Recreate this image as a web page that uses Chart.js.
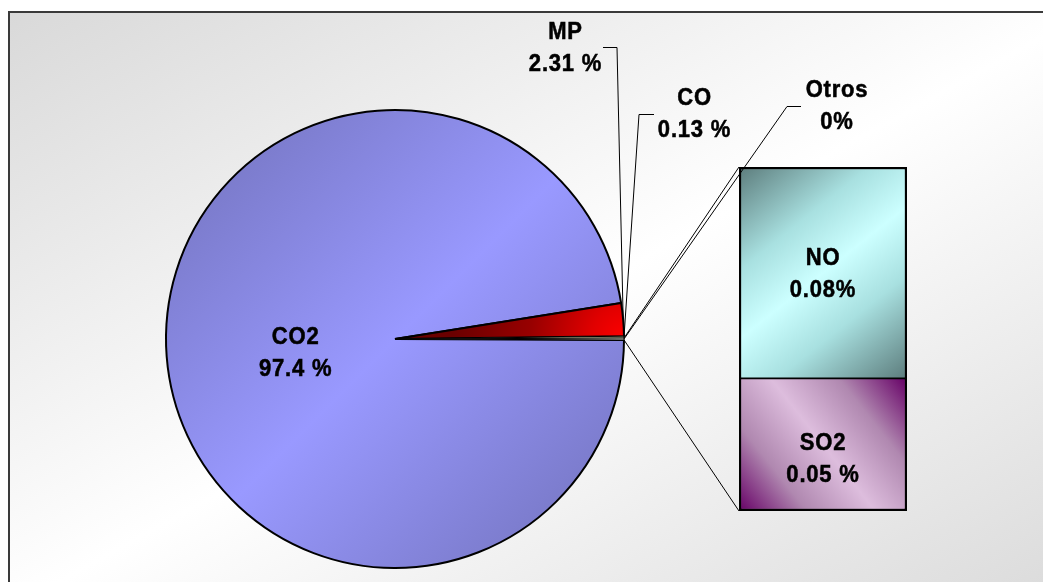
<!DOCTYPE html>
<html>
<head>
<meta charset="utf-8">
<script src="https://cdn.jsdelivr.net/npm/chart.js@4.4.1/dist/chart.umd.min.js"></script>
<style>
  html, body { margin: 0; padding: 0; width: 1043px; height: 582px; overflow: hidden; background: #ffffff; }
  #panel {
    position: absolute; left: 8px; top: 11px; width: 1080px; height: 600px;
    box-sizing: border-box; border: 2px solid #3a3a3a;
    background: linear-gradient(to bottom right, #d9d9d9 0%, #ffffff 50%, #d9d9d9 100%);
  }
  canvas { position: absolute; left: 0; top: 0; }
</style>
</head>
<body>
<div id="panel"></div>
<canvas id="pie" width="1043" height="582"></canvas>
<canvas id="bar" width="1043" height="582"></canvas>
<script>
// Emission shares, in percent
const pieLabels = ['CO2', 'MP', 'CO', 'Otros'];
const mainValues = [97.4, 2.31, 0.13];          // CO2, MP, CO
const barLabels = ['SO2', 'NO'];                // stacked bottom -> top
const barValues = [0.05, 0.08];

// the "Otros" slice of the pie is the sum of the stacked bar
const otrosValue = barValues.reduce((a, b) => a + b, 0);
const pieValues = mainValues.concat([otrosValue]);
const pieTotal = pieValues.reduce((a, b) => a + b, 0);

// value text formats per category
const pieFormat = [
  v => v.toFixed(1) + ' %',
  v => v.toFixed(2) + ' %',
  v => v.toFixed(2) + ' %',
  v => Math.round(v) + '%'
];
const barFormat = [
  v => v.toFixed(2) + ' %',
  v => v.toFixed(2) + '%'
];

const FONT = 'bold 22px "Liberation Sans", Arial, sans-serif';
const TEXT_STRETCH = 1.07;   // slightly tall lettering

function pieFill(ctx) {
  const chart = ctx.chart;
  const a = chart.chartArea;
  if (!a) return '#9999ff';
  const cx = (a.left + a.right) / 2, cy = (a.top + a.bottom) / 2;
  const r = Math.min(a.right - a.left, a.bottom - a.top) / 2;
  const c = chart.ctx;
  let g;
  switch (ctx.dataIndex) {
    case 0:
      g = c.createLinearGradient(cx - r, cy - r, cx + r, cy + r);
      g.addColorStop(0, '#7070b8');
      g.addColorStop(0.5, '#9999ff');
      g.addColorStop(1, '#7070b8');
      return g;
    case 1:
      g = c.createRadialGradient(cx + r, cy, 0, cx + r, cy, r * 0.75);
      g.addColorStop(0, '#ff0000');
      g.addColorStop(0.2, '#e00000');
      g.addColorStop(0.55, '#980000');
      g.addColorStop(1, '#6a0000');
      return g;
    case 2:
      return '#ffffcc';
    default:
      return '#fffff0';
  }
}

function barFill(ctx, i) {
  const chart = ctx.chart;
  const a = chart.chartArea;
  if (!a || !chart.scales.y) return i ? '#ccffff' : '#ddbbdd';
  const y = chart.scales.y;
  const c = chart.ctx;
  let g;
  if (i === 1) {
    const top = y.getPixelForValue(otrosValue), bot = y.getPixelForValue(barValues[0]);
    g = c.createLinearGradient(a.left, top, a.right, bot);
    g.addColorStop(0, '#5c7c7c');
    g.addColorStop(0.3, '#a8e0e0');
    g.addColorStop(0.5, '#ccffff');
    g.addColorStop(0.7, '#a8e0e0');
    g.addColorStop(1, '#5c7c7c');
  } else {
    const top = y.getPixelForValue(barValues[0]), bot = y.getPixelForValue(0);
    g = c.createLinearGradient(a.right, top, a.left, bot);
    g.addColorStop(0, '#660066');
    g.addColorStop(0.25, '#b088b0');
    g.addColorStop(0.5, '#ddbddd');
    g.addColorStop(0.75, '#b088b0');
    g.addColorStop(1, '#660066');
  }
  return g;
}

const pieChart = new Chart(document.getElementById('pie'), {
  type: 'pie',
  data: {
    labels: pieLabels,
    datasets: [{
      data: pieValues,
      backgroundColor: pieFill,
      borderColor: '#000000',
      borderWidth: [2, 2, 1, 1]
    }]
  },
  options: {
    responsive: false,
    animation: false,
    events: [],
    // the "Otros" slice sits centred on the 3 o'clock direction
    rotation: 90 + (otrosValue / 2) / pieTotal * 360,
    layout: { padding: { left: 165, right: 418, top: 109, bottom: 13 } },
    plugins: { legend: { display: false }, tooltip: { enabled: false } }
  }
});

// label blocks: two lines, centred on (x, y)
function drawBlock(c, lines, x, y) {
  c.save();
  c.translate(x, y);
  c.scale(1, TEXT_STRETCH);
  c.font = FONT;
  c.letterSpacing = '0.8px';
  c.fillStyle = '#000000';
  c.strokeStyle = '#000000';
  c.lineWidth = 0.5;
  c.textAlign = 'center';
  c.textBaseline = 'alphabetic';
  const b1 = -8 / TEXT_STRETCH, b2 = 24 / TEXT_STRETCH;
  c.fillText(lines[0], 0, b1);
  c.strokeText(lines[0], 0, b1);
  c.fillText(lines[1], 0, b2);
  c.strokeText(lines[1], 0, b2);
  c.restore();
}

function seg(c, pts) {
  c.beginPath();
  c.moveTo(pts[0][0], pts[0][1]);
  for (let k = 1; k < pts.length; k++) c.lineTo(pts[k][0], pts[k][1]);
  c.stroke();
}

// placement of the outside pie labels and their leader knees
const outsideLabels = [
  { idx: 1, pos: [565.5, 46.5], knee: [[603, 47.5], [617, 47.5]] },
  { idx: 2, pos: [694.5, 113], knee: [[654, 114.5], [639, 114.5]] },
  { idx: 3, pos: [837, 105], knee: [[801, 106.5], [787, 106.5]] }
];

const overlay = {
  id: 'overlay',
  afterDraw(chart) {
    const c = chart.ctx;
    const arcs = pieChart.getDatasetMeta(0).data;
    const rim = (arc, ang) => [arc.x + arc.outerRadius * Math.cos(ang), arc.y + arc.outerRadius * Math.sin(ang)];
    const mid = arc => (arc.startAngle + arc.endAngle) / 2;

    const botBar = chart.getDatasetMeta(0).data[0];
    const topBar = chart.getDatasetMeta(1).data[0];
    const barLeft = topBar.x - topBar.width / 2;
    const other = arcs[3];

    c.save();
    c.strokeStyle = '#000000';
    c.lineWidth = 1;
    // series lines joining the "Otros" slice to the stacked bar
    seg(c, [rim(other, other.startAngle), [barLeft, topBar.y]]);
    seg(c, [rim(other, other.endAngle), [barLeft, botBar.base]]);

    // leader lines and labels outside the pie
    outsideLabels.forEach(L => {
      const arc = arcs[L.idx];
      seg(c, L.knee.concat([rim(arc, mid(arc))]));
      drawBlock(c, [pieLabels[L.idx], pieFormat[L.idx](pieValues[L.idx])], L.pos[0], L.pos[1]);
    });

    // label inside the big slice
    const big = arcs[0];
    const m = mid(big), d = big.outerRadius * 0.435;
    drawBlock(c, [pieLabels[0], pieFormat[0](pieValues[0])], big.x + d * Math.cos(m), big.y + d * Math.sin(m) + 5);

    // labels inside the bar segments
    [botBar, topBar].forEach((b, i) => {
      const dy = i === 0 ? 13 : 0;
      drawBlock(c, [barLabels[i], barFormat[i](barValues[i])], b.x, (b.y + b.base) / 2 + dy);
    });
    c.restore();
  }
};

new Chart(document.getElementById('bar'), {
  type: 'bar',
  data: {
    labels: ['Otros'],
    datasets: barLabels.map((lab, i) => ({
      label: lab,
      data: [barValues[i]],
      backgroundColor: ctx => barFill(ctx, i),
      borderColor: '#000000',
      borderWidth: i === 0 ? { top: 1, left: 2.5, right: 2.5, bottom: 2.5 } : { top: 2.5, left: 2.5, right: 2.5, bottom: 1.5 },
      borderSkipped: false,
      barPercentage: 1,
      categoryPercentage: 1
    }))
  },
  options: {
    responsive: false,
    animation: false,
    events: [],
    layout: { padding: { left: 739, right: 136, top: 167, bottom: 71 } },
    scales: {
      x: { display: false, stacked: true },
      y: { display: false, stacked: true, min: 0, max: otrosValue }
    },
    plugins: { legend: { display: false }, tooltip: { enabled: false } }
  },
  plugins: [overlay]
});
</script>
</body>
</html>
